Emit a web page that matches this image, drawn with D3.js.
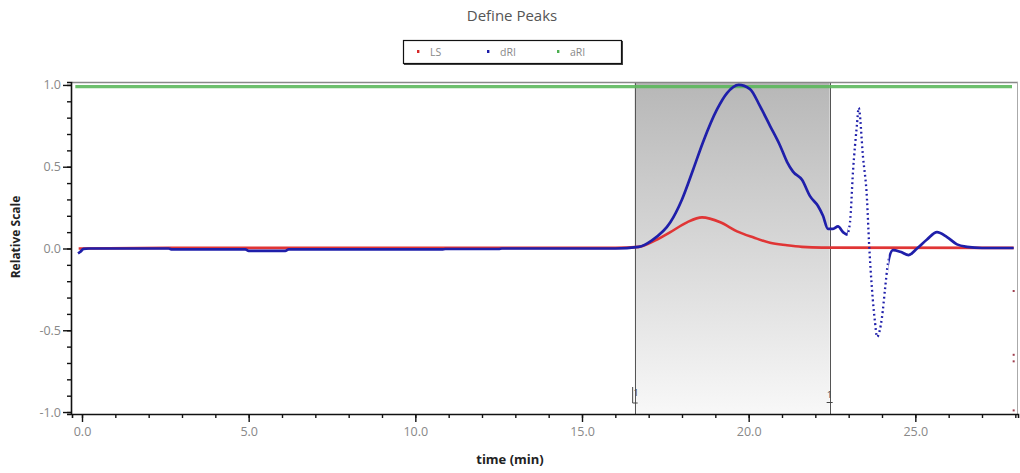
<!DOCTYPE html>
<html>
<head>
<meta charset="utf-8">
<script src="https://cdn.jsdelivr.net/npm/d3@7"></script>
<style>
  html, body { margin: 0; padding: 0; background: #fff; }
  svg { display: block; font-family: "Open Sans", "Noto Sans", sans-serif; }
</style>
</head>
<body>
<svg id="chart" width="1020" height="473"></svg>
<script>
// Detector traces (time in min, relative scale)
const lsTrace = [
  [-0.1, 0.0], [2.6, 0.004], [16.0, 0.004], [16.7, 0.01], [17.2, 0.05],
  [17.65, 0.1], [18.15, 0.16], [18.6, 0.19], [19.15, 0.16], [19.65, 0.105],
  [20.15, 0.067], [20.64, 0.035], [21.15, 0.02], [21.6, 0.01], [22.2, 0.005],
  [27.95, 0.004]
];
const lsOutliers = [[27.95, -0.26], [27.95, -0.65], [27.95, -0.69], [27.95, -0.99]];

const driTrace = [
  [-0.12, -0.03], [-0.05, -0.02], [0.05, -0.002], [0.2, 0.0], [2.6, 0.0],
  [2.7, -0.006], [4.9, -0.006], [5.0, -0.014], [6.1, -0.014], [6.2, -0.006],
  [10.8, -0.006], [10.9, -0.003], [12.5, -0.003], [12.6, 0.0], [16.0, 0.0],
  [16.7, 0.01], [17.1, 0.05], [17.65, 0.16], [18.0, 0.3], [18.33, 0.48],
  [18.63, 0.65], [19.05, 0.85], [19.35, 0.95], [19.7, 1.0], [20.04, 0.975],
  [20.34, 0.87], [20.64, 0.75], [20.94, 0.63], [21.15, 0.53], [21.33, 0.47],
  [21.6, 0.42], [21.84, 0.32], [22.08, 0.26], [22.23, 0.2], [22.38, 0.12],
  [22.53, 0.12], [22.68, 0.135], [22.83, 0.10], [22.95, 0.085], [23.04, 0.16],
  [23.13, 0.47], [23.25, 0.76], [23.3, 0.86], [23.43, 0.56], [23.55, 0.3],
  [23.61, 0.04], [23.7, -0.25], [23.79, -0.45], [23.85, -0.54], [24.0, -0.42],
  [24.09, -0.25], [24.18, -0.09], [24.33, -0.01], [24.55, -0.02], [24.8, -0.04],
  [25.05, 0.0], [25.35, 0.055], [25.65, 0.10], [25.95, 0.07], [26.25, 0.025],
  [26.55, 0.01], [27.0, 0.003], [27.95, 0.003]
];
// time window where the dRI signal changes too fast to read as a solid line
const driSparse = [22.97, 24.2];

const ariTrace = [[-0.2, 0.99], [27.9, 0.99]];

// peak 1 limits
const peakLimits = [16.58, 22.43];
const peakLabel = "1";

const xMajorTicks = [0, 5, 10, 15, 20, 25];
const xMinorTicks = d3.range(0, 29, 1);
const yMajorTicks = [-1, -0.5, 0, 0.5, 1];
const yMinorTicks = d3.range(-10, 11).map(d => d / 10);

const legendItems = [
  { name: "LS", color: "#d62828" },
  { name: "dRI", color: "#1c1ca8" },
  { name: "aRI", color: "#4caf50" }
];

const svg = d3.select("#chart");
const W = 1020, H = 473;
const plot = { left: 72, right: 1018, top: 82, bottom: 414 };

const x = d3.scaleLinear().domain([-0.3, 28.08]).range([plot.left, plot.right]);
const y = d3.scaleLinear().domain([-1.012, 1.018]).range([plot.bottom, plot.top]);

svg.append("rect").attr("width", W).attr("height", H).attr("fill", "#fff");

const defs = svg.append("defs");
const grad = defs.append("linearGradient").attr("id", "peakShade")
  .attr("x1", 0).attr("y1", 0).attr("x2", 0).attr("y2", 1);
grad.append("stop").attr("offset", "0%").attr("stop-color", "#b7b7b7");
grad.append("stop").attr("offset", "100%").attr("stop-color", "#f8f8f8");

defs.append("clipPath").attr("id", "plotClip").append("rect")
  .attr("x", plot.left).attr("y", plot.top - 4)
  .attr("width", plot.right - plot.left).attr("height", plot.bottom - plot.top + 4);
defs.append("clipPath").attr("id", "solidClip").append("path")
  .attr("d", `M${plot.left},0H${x(driSparse[0])}V${H}H${plot.left}Z M${x(driSparse[1])},0H${plot.right}V${H}H${x(driSparse[1])}Z`);
defs.append("clipPath").attr("id", "sparseClip").append("rect")
  .attr("x", x(driSparse[0])).attr("y", 0)
  .attr("width", x(driSparse[1]) - x(driSparse[0])).attr("height", H);

// title
svg.append("text").attr("x", 512).attr("y", 21).attr("text-anchor", "middle")
  .attr("font-size", 15).attr("fill", "#555").text("Define Peaks");

// legend
const lg = svg.append("g");
lg.append("rect").attr("x", 404.5).attr("y", 41.5).attr("width", 218).attr("height", 23)
  .attr("fill", "none").attr("stroke", "#444").attr("stroke-width", 1);
lg.append("rect").attr("x", 403.5).attr("y", 40.5).attr("width", 218).attr("height", 23)
  .attr("fill", "#fff").attr("stroke", "#111").attr("stroke-width", 1.2);
legendItems.forEach((d, i) => {
  const cx = 418 + i * 70;
  lg.append("rect").attr("x", cx - 1).attr("y", 50).attr("width", 2.4).attr("height", 3)
    .attr("fill", d.color);
  lg.append("text").attr("x", cx + 12).attr("y", 56).attr("font-size", 10.5)
    .attr("fill", "#888").text(d.name);
});

// peak window shading
const shade = svg.append("g");
shade.append("rect")
  .attr("x", x(peakLimits[0])).attr("y", plot.top)
  .attr("width", x(peakLimits[1]) - x(peakLimits[0]))
  .attr("height", plot.bottom - plot.top)
  .attr("fill", "url(#peakShade)");
peakLimits.forEach(t => {
  shade.append("line").attr("x1", Math.round(x(t)) + 0.5).attr("x2", Math.round(x(t)) + 0.5)
    .attr("y1", plot.top).attr("y2", plot.bottom)
    .attr("stroke", "#555").attr("stroke-width", 1);
});

// frame (top + right)
svg.append("line").attr("x1", plot.left).attr("x2", plot.right).attr("y1", plot.top + 0.5).attr("y2", plot.top + 0.5)
  .attr("stroke", "#888").attr("stroke-width", 1.4);
svg.append("line").attr("x1", plot.right - 0.5).attr("x2", plot.right - 0.5).attr("y1", plot.top).attr("y2", plot.bottom)
  .attr("stroke", "#aaa").attr("stroke-width", 1);

const line = d3.line().x(d => x(d[0])).y(d => y(d[1])).curve(d3.curveMonotoneX);
const traces = svg.append("g").attr("clip-path", "url(#plotClip)");

traces.append("path").datum(ariTrace).attr("d", line)
  .attr("fill", "none").attr("stroke", "#5cb85c").attr("stroke-width", 3.2).attr("stroke-opacity", 0.9);

traces.append("path").datum(lsTrace).attr("d", line)
  .attr("fill", "none").attr("stroke", "#e03535").attr("stroke-width", 2.6);

traces.append("g").attr("clip-path", "url(#solidClip)")
  .append("path").datum(driTrace).attr("d", line)
  .attr("fill", "none").attr("stroke", "#1f1faa").attr("stroke-width", 2.7);
traces.append("g").attr("clip-path", "url(#sparseClip)")
  .append("path").datum(driTrace).attr("d", line)
  .attr("fill", "none").attr("stroke", "#1f1faa").attr("stroke-width", 2.3)
  .attr("stroke-dasharray", "1.8 3");

svg.append("g").selectAll("rect").data(lsOutliers).join("rect")
  .attr("x", d => x(d[0]) - 1).attr("y", d => y(d[1]) - 1)
  .attr("width", 2).attr("height", 2).attr("fill", "#a04050");

// peak boundary markers
const pl = x(peakLimits[0]), pr = x(peakLimits[1]);
svg.append("path")
  .attr("d", `M${pl - 2},387V403H${pl + 3}`)
  .attr("fill", "none").attr("stroke", "#444").attr("stroke-width", 1);
svg.append("text").attr("x", pl + 1.5).attr("y", 396).attr("text-anchor", "middle")
  .attr("font-size", 9).attr("fill", "#444").text(peakLabel);
svg.append("text").attr("x", pr).attr("y", 398).attr("text-anchor", "middle")
  .attr("font-size", 9).attr("fill", "#444").text(peakLabel);
svg.append("line").attr("x1", pr - 3).attr("x2", pr + 3).attr("y1", 402.5).attr("y2", 402.5)
  .attr("stroke", "#444").attr("stroke-width", 1);

// axes
const fmt = d => d.toFixed(1);
const xAxis = svg.append("g").attr("transform", `translate(0,${plot.bottom})`);
xAxis.call(d3.axisBottom(x).tickValues(xMinorTicks).tickSize(4).tickFormat(""));
xAxis.append("g").call(d3.axisBottom(x).tickValues(xMajorTicks).tickSize(8).tickPadding(5).tickFormat(fmt));

const yAxis = svg.append("g").attr("transform", `translate(${plot.left - 1},0)`);
yAxis.call(d3.axisLeft(y).tickValues(yMinorTicks).tickSize(4).tickFormat(""));
yAxis.append("g").call(d3.axisLeft(y).tickValues(yMajorTicks).tickSize(8).tickPadding(2).tickFormat(fmt));

svg.selectAll(".domain").attr("stroke", "#111").attr("stroke-width", 1.6);
svg.selectAll(".tick line").attr("stroke", "#111").attr("stroke-width", 1.4);
xAxis.selectAll("g > g > .domain").remove();
yAxis.selectAll("g > g > .domain").remove();
svg.selectAll(".tick text").attr("fill", "#888").attr("font-size", 12.5)
  .attr("font-family", "\"Open Sans\", sans-serif");

// axis titles
svg.append("text").attr("transform", "translate(20,237) rotate(-90)")
  .attr("text-anchor", "middle").attr("font-size", 12).attr("font-weight", "bold")
  .attr("fill", "#222").text("Relative Scale");
svg.append("text").attr("x", 510).attr("y", 464).attr("text-anchor", "middle")
  .attr("font-size", 13).attr("font-weight", "bold").attr("fill", "#222").text("time (min)");
</script>
</body>
</html>
